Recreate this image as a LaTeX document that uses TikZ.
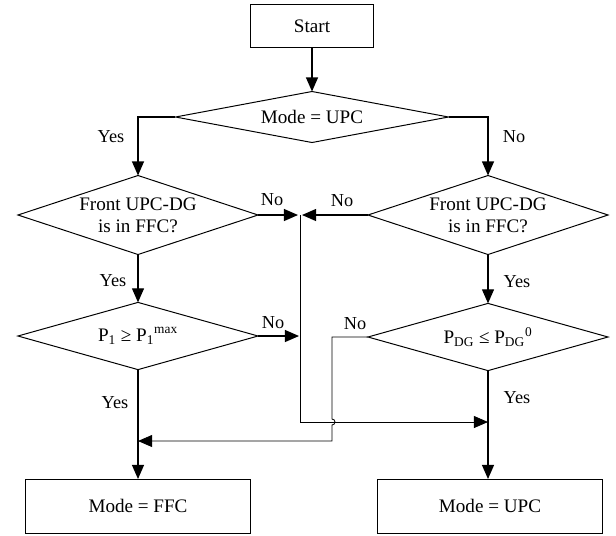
\documentclass[tikz,border=0pt]{standalone}
\usepackage{fontspec}
\setmainfont{Liberation Serif}
\usetikzlibrary{arrows.meta,shapes.geometric}

\begin{document}
\begin{tikzpicture}[x=0.025cm,y=-0.025cm,line width=0.9pt,
  >={Triangle[length=10pt,width=8.5pt]},
  txt/.style={font=\fontsize{13.6}{15.6}\selectfont},
  lbl/.style={font=\fontsize{13}{15}\selectfont,inner sep=0pt},
  box/.style={txt,draw,line width=0.7pt,inner sep=0pt,outer sep=0pt},
  decision/.style={txt,draw,line width=0.7pt,diamond,aspect=3,inner sep=0pt,outer sep=0pt,align=center,minimum width=6cm},
  bus/.style={line width=0.6pt}]
  \useasboundingbox (0,0) rectangle (616,535);
  \node[box,minimum width=3.05cm,minimum height=1.075cm] (start) at (312,26){Start};
  \node[decision,minimum width=6.825cm,minimum height=1.275cm] (mode) at (312,117){Mode = UPC};
  \node[decision,minimum height=1.975cm] (frontL) at (138,215){Front UPC-DG\\is in FFC?};
  \node[decision,minimum height=1.975cm] (frontR) at (488,215){Front UPC-DG\\is in FFC?};
  \node[decision,minimum height=1.68cm] (pL) at (138,336){P\textsubscript{1} ≥ P\textsubscript{1}\textsuperscript{max}};
  \node[decision,minimum height=1.68cm] (pR) at (488,337){P\textsubscript{DG} ≤ P\textsubscript{DG}\textsuperscript{0}};
  \node[box,minimum width=5.6cm,minimum height=1.35cm] (ffc) at (138,506){Mode = FFC};
  \node[box,minimum width=5.6cm,minimum height=1.35cm] (upc) at (490,506){Mode = UPC};
  \coordinate (busL) at (298,215);
  \coordinate (busR) at (302,215);
  \coordinate (busT) at (300,215);
  \coordinate (busM) at (299,336);
  \coordinate (joinR) at (488,422);
  \coordinate (hopA) at (332,419);
  \coordinate (joinL) at (138,441);
  \draw[->] (start) -- (mode);
  \draw[->] (mode.west) -| (frontL.north);
  \draw[->] (mode.east) -| (frontR.north);
  \draw[->] (frontL.east) -- (busL);
  \draw[->] (frontR.west) -- (busR);
  \draw[->,bus] (busT) |- (joinR);
  \draw[->] (pL.east) -- (busM);
  \draw[->] (frontL) -- (pL);
  \draw[->] (frontR) -- (pR);
  \draw[->] (pL) -- (ffc);
  \draw[->] (pR) -- (upc.north-|pR.south);
  \draw[->,bus] (pR.west) -| (hopA) arc[start angle=90,end angle=-90,radius=0.075cm] |- (joinL);
  \node[lbl] (yes1) at (111,137){Yes};
  \node[lbl] (no1) at (514,137){No};
  \node[lbl] (no2) at (272,200){No};
  \node[lbl] (no3) at (342,201){No};
  \node[lbl] (yes2) at (113,281){Yes};
  \node[lbl] (yes3) at (517,282){Yes};
  \node[lbl] (no4) at (273,323){No};
  \node[lbl] (no5) at (355,324){No};
  \node[lbl] (yes4) at (115,403){Yes};
  \node[lbl] (yes5) at (517,398){Yes};
\end{tikzpicture}
\end{document}
